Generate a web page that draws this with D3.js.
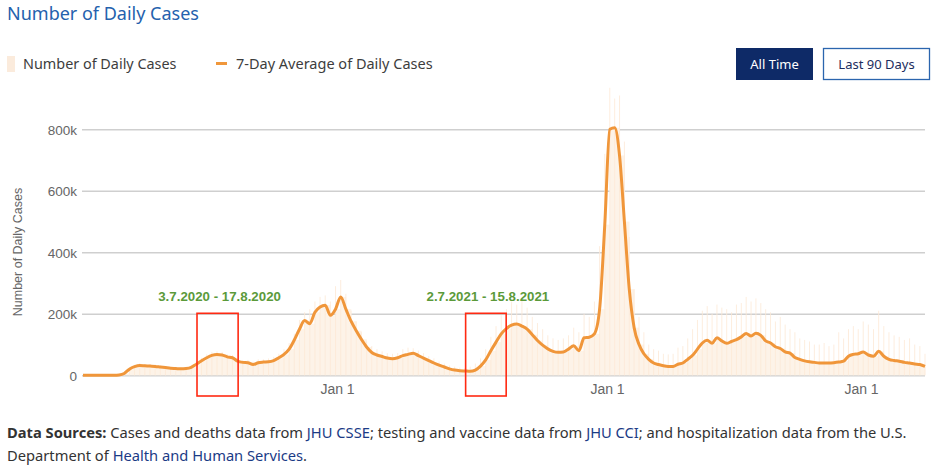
<!DOCTYPE html>
<html><head><meta charset="utf-8">
<script src="https://cdn.jsdelivr.net/npm/d3@7"></script>
<style>
html,body{margin:0;padding:0;background:#fff;}
svg{display:block;}
</style></head>
<body>
<svg id="chart" width="939" height="472"></svg>
<script>
// ---------------- DATA ----------------
const firstWeek = "2020-01-22";           // first data point, then one value per week
const axisDates = ["2020-01-22","2021-01-01","2022-01-01","2023-01-01","2023-03-29"];
const xTickDates = ["2021-01-01","2022-01-01","2023-01-01"];
const yTicks = [0, 200000, 400000, 600000, 800000];

// 7-day average of daily cases (thousands), weekly samples
const avgCases = [
  0,0,0,0,0,0,0.1,1,6,20,
  28,32,31,30,29,27,25,23,22,21,
  22,26,36,47,57,65,68,66,60,57,
  46,42,41,35,41,43,44,48,57,68,
  85,115,150,178,168,205,222,228,195,215,
  255,215,176,145,117,92,74,66,61,56,
  54,57,64,68,72,64,56,48,40,33,
  27,21,17,15,14,13,17,30,50,80,
  108,135,152,163,167,160,150,132,113,98,
  86,78,75,76,85,96,80,122,124,135,
  215,490,800,805,715,500,280,155,100,70,
  52,40,35,31,29,29,36,40,52,65,
  85,105,114,104,122,112,104,110,116,125,
  136,128,137,130,112,105,93,87,76,72,
  58,52,47,44,42,40,40,40,41,43,
  46,62,68,70,76,66,62,78,62,52,
  48,46,42,40,37,35,29
];
// highest single-day count within each week (thousands)
const dailyHigh = [
  0,0,0,0,0,0,0.3,2,9,26,
  34,39,36,36,35,32,29,27,26,25,
  27,33,45,57,68,76,78,76,68,66,
  55,50,50,45,52,52,55,60,70,85,
  105,135,180,205,215,240,255,260,240,290,
  310,265,210,175,140,110,95,85,78,72,
  70,72,85,90,88,80,72,62,55,45,
  38,32,28,25,24,28,38,55,85,125,
  160,195,215,240,230,250,220,190,170,150,
  130,120,115,120,130,155,140,200,190,240,
  420,720,935,900,910,760,450,280,190,140,
  100,85,80,70,68,70,90,95,120,150,
  180,210,225,200,230,220,215,205,230,235,
  255,240,250,235,215,205,175,190,165,150,
  140,120,115,110,100,100,105,95,100,140,
  120,150,160,150,175,165,150,210,160,140,
  130,125,115,120,100,95,70
];
const highlightRanges = [
  {label:"3.7.2020 - 17.8.2020", start:"2020-07-03", end:"2020-08-17"},
  {label:"2.7.2021 - 15.8.2021", start:"2021-07-02", end:"2021-08-15"}
];

// ---------------- CHART ----------------
const parse = d3.utcParse("%Y-%m-%d");
const t0 = parse(firstWeek);
const data = avgCases.map((v,i)=>({date:d3.utcDay.offset(t0, 7*i), avg:v*1000, high:dailyHigh[i]*1000}));

const svg = d3.select("#chart");
const SANS = "'Liberation Sans', Arial, sans-serif";
const UI = "'Noto Sans', 'Open Sans', sans-serif";

const x = d3.scaleUtc().domain(axisDates.map(parse)).range([83, 337, 607, 861, 925]);
const y = d3.scaleLinear().domain([0, 800000]).range([375.3, 129.3]);

// title
svg.append("text").attr("x",7).attr("y",20).text("Number of Daily Cases")
  .attr("font-family",UI).attr("font-size",18).attr("fill","#2461ad");

// legend
svg.append("rect").attr("x",7).attr("y",56).attr("width",8).attr("height",16).attr("fill","#fbebdc");
svg.append("text").attr("x",23).attr("y",69).text("Number of Daily Cases")
  .attr("font-family",UI).attr("font-size",14.4).attr("fill","#3d3d3d");
svg.append("line").attr("x1",216).attr("x2",227).attr("y1",63.5).attr("y2",63.5)
  .attr("stroke","#f0973b").attr("stroke-width",3);
svg.append("text").attr("x",236).attr("y",69).text("7-Day Average of Daily Cases")
  .attr("font-family",UI).attr("font-size",14.5).attr("fill","#3d3d3d");

// buttons
svg.append("rect").attr("x",736).attr("y",48).attr("width",77).attr("height",32).attr("fill","#0e2a67");
svg.append("text").attr("x",774.5).attr("y",68.5).attr("text-anchor","middle").text("All Time")
  .attr("font-family",UI).attr("font-size",13).attr("fill","#ffffff");
svg.append("rect").attr("x",823.5).attr("y",48.5).attr("width",106).attr("height",31).attr("fill","#fff")
  .attr("stroke","#2b65ae").attr("stroke-width",1.3);
svg.append("text").attr("x",876.5).attr("y",68.5).attr("text-anchor","middle").text("Last 90 Days")
  .attr("font-family",UI).attr("font-size",13).attr("fill","#1c2d5e");

// gridlines + y labels
const yAxis = d3.axisLeft(y).tickValues(yTicks).tickSize(-(925-82))
  .tickFormat(d => d===0 ? "0" : d3.format("~s")(d));
const gy = svg.append("g").attr("transform","translate(82,0)").call(yAxis);
gy.select(".domain").remove();
gy.selectAll(".tick line").attr("stroke","#cfcfcf").attr("stroke-width",1.6);
gy.selectAll(".tick text").attr("x",-5).attr("dy","0.36em")
  .attr("font-family",SANS).attr("font-size",13.5).attr("fill","#666");

// y title
svg.append("text").attr("transform","translate(22,252) rotate(-90)").attr("text-anchor","middle")
  .text("Number of Daily Cases").attr("font-family",SANS).attr("font-size",12.5).attr("fill","#666");

// x axis labels
const xAxis = d3.axisBottom(x).tickValues(xTickDates.map(parse)).tickSize(0)
  .tickFormat(d3.utcFormat("%b %-d"));
const gx = svg.append("g").attr("transform","translate(0,375)").call(xAxis);
gx.select(".domain").remove();
gx.selectAll(".tick text").attr("y",19).attr("dy","0")
  .attr("font-family",SANS).attr("font-size",14).attr("fill","#666");

// daily bars
const plot = svg.append("g");
plot.selectAll("rect.body").data(data.slice(0,-1)).join("rect").attr("class","body")
  .attr("x", (d,i)=>x(d.date))
  .attr("width", (d,i)=>x(data[i+1].date)-x(d.date)+0.3)
  .attr("y", d=>y(d.avg)).attr("height", d=>y(0)-y(d.avg))
  .attr("fill","#fdf3e8");
plot.selectAll("rect.spike").data(data).join("rect").attr("class","spike")
  .attr("x", d=>x(d.date)-0.5).attr("width",1)
  .attr("y", d=>y(d.high)).attr("height", d=>y(0)-y(d.high))
  .attr("fill","#fce9d6").attr("opacity",0.8);

// 7-day average line
const line = d3.line().x(d=>x(d.date)).y(d=>y(d.avg)).curve(d3.curveMonotoneX);
plot.append("path").datum(data).attr("d",line).attr("fill","none")
  .attr("stroke","#f0963a").attr("stroke-width",3).attr("stroke-linejoin","round");

// highlight boxes
const hg = svg.append("g");
highlightRanges.forEach(r=>{
  const x0 = x(parse(r.start))-6, x1 = x(parse(r.end))+2;
  hg.append("rect").attr("x",x0).attr("y",y(200000)-0.5).attr("width",x1-x0).attr("height",396-y(200000)+0.5)
    .attr("fill","none").attr("stroke","#ff2a12").attr("stroke-width",1.6);
  hg.append("text").attr("x",(x0+x1)/2+2).attr("y",300.5).attr("text-anchor","middle").text(r.label)
    .attr("font-family",SANS).attr("font-weight","bold").attr("font-size",13.3).attr("fill","#5b9a3a");
});

// footer
const f1 = svg.append("text").attr("x",7).attr("y",437.5).attr("font-family",UI).attr("font-size",14.7).attr("fill","#333");
f1.append("tspan").attr("font-weight","bold").text("Data Sources:");
f1.append("tspan").text(" Cases and deaths data from ");
f1.append("tspan").attr("fill","#1b3b86").text("JHU CSSE");
f1.append("tspan").text("; testing and vaccine data from ");
f1.append("tspan").attr("fill","#1b3b86").text("JHU CCI");
f1.append("tspan").text("; and hospitalization data from the U.S.");
const f2 = svg.append("text").attr("x",7).attr("y",460.5).attr("font-family",UI).attr("font-size",14.7).attr("fill","#333");
f2.append("tspan").text("Department of ");
f2.append("tspan").attr("fill","#1b3b86").text("Health and Human Services");
f2.append("tspan").text(".");
</script>
</body></html>
